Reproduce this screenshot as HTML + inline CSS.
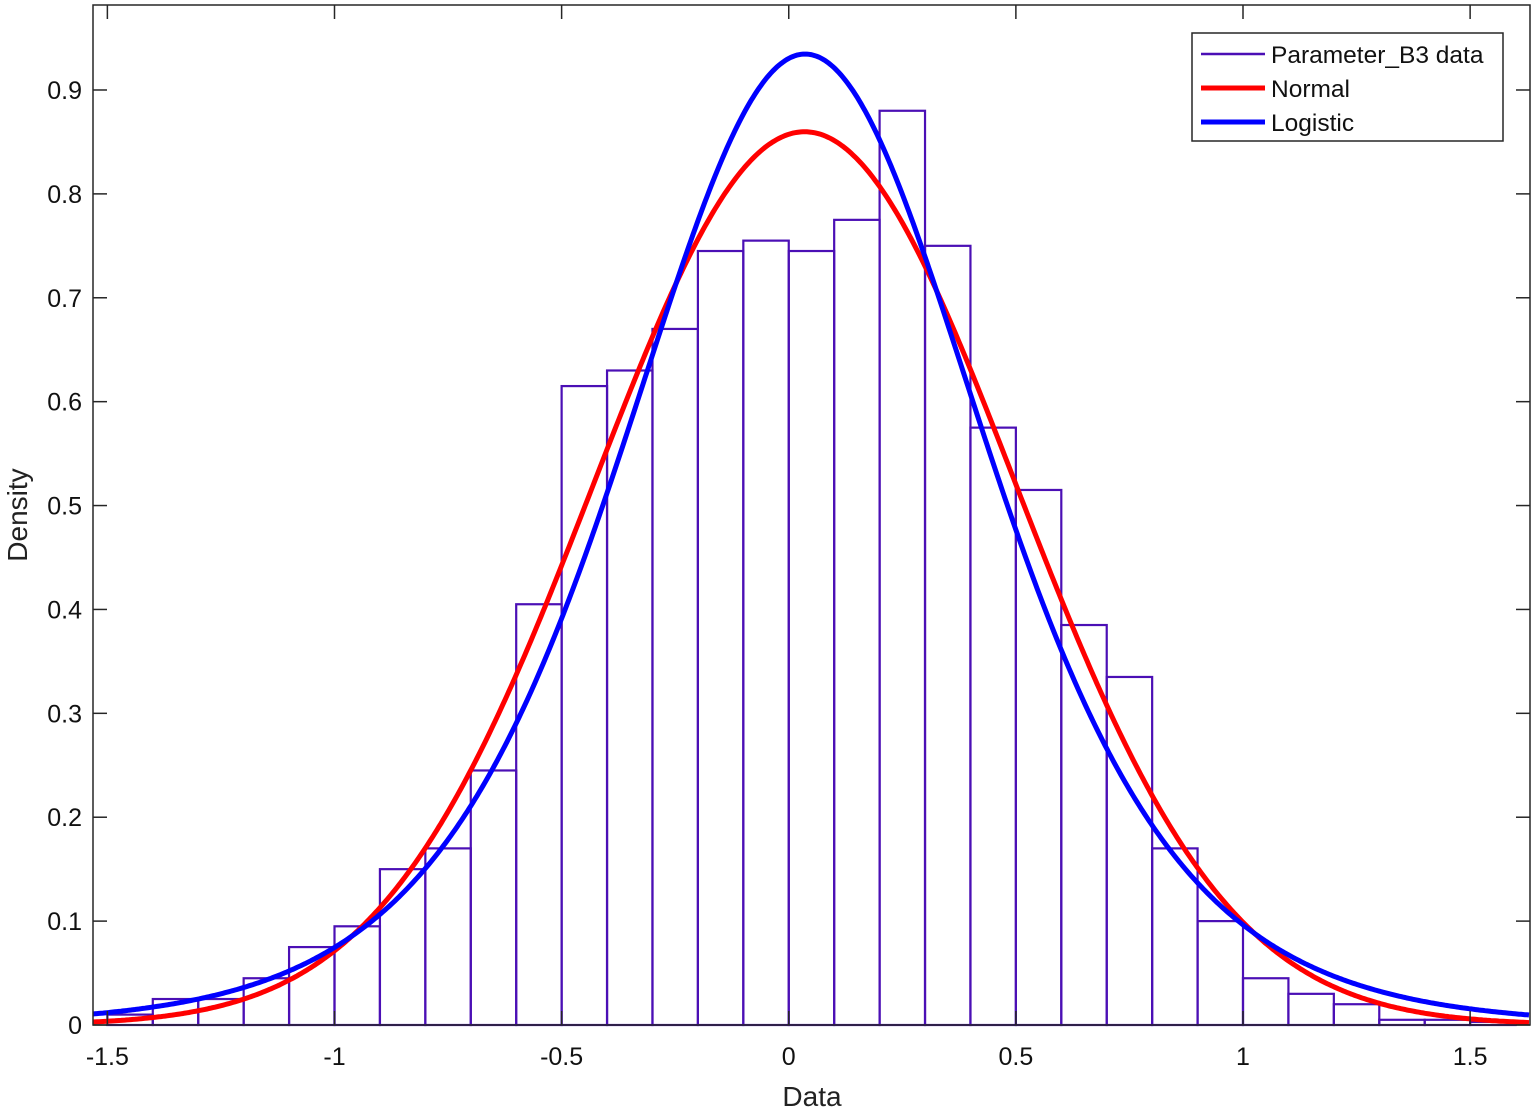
<!DOCTYPE html>
<html><head><meta charset="utf-8"><style>
html,body{margin:0;padding:0;background:#fff;}
svg{display:block;font-family:"Liberation Sans",Arial,sans-serif;}
</style></head><body>
<svg id="s" width="1536" height="1111" viewBox="0 0 1536 1111" xmlns="http://www.w3.org/2000/svg">
<rect width="1536" height="1111" fill="#fff"/>
<g id="bars"></g>
<g id="curves"></g>
<g id="axes"></g>
<text x="812" y="1106" font-size="28" text-anchor="middle" fill="#222">Data</text>
<text transform="translate(27,515) rotate(-90)" font-size="28" text-anchor="middle" fill="#222">Density</text>
<rect x="1192" y="33" width="311" height="108" fill="#fff" stroke="#262626" stroke-width="1.5"/>
<line x1="1201" y1="54" x2="1265" y2="54" stroke="#4b0fb5" stroke-width="2.5"/>
<line x1="1201" y1="88" x2="1265" y2="88" stroke="#ff0000" stroke-width="5"/>
<line x1="1201" y1="122" x2="1265" y2="122" stroke="#0000ff" stroke-width="5"/>
<text x="1271" y="63" font-size="24.5" fill="#111">Parameter_B3 data</text>
<text x="1271" y="97" font-size="24.5" fill="#111">Normal</text>
<text x="1271" y="131" font-size="24.5" fill="#111">Logistic</text>
</svg>
<script>
var X0=788.75,SX=454.25,Y0=1025,SY=1038.9,L=93,R=1530,T=5;
function px(x){return X0+x*SX;}function py(y){return Y0-y*SY;}
var h=[0.01,0.025,0.025,0.045,0.075,0.095,0.15,0.17,0.245,0.405,0.615,0.63,0.67,0.745,0.755,0.745,0.775,0.88,0.75,0.575,0.515,0.385,0.335,0.17,0.10,0.045,0.03,0.02,0.005,0.005,0.003];
var s='';
for(var i=0;i<h.length;i++){var a=-1.5+i*0.1;var x1=Math.max(px(a),L),x2=Math.min(px(a+0.1),R);
s+='<rect x="'+x1+'" y="'+py(h[i])+'" width="'+(x2-x1)+'" height="'+(h[i]*SY)+'" fill="none" stroke="#4b0fb5" stroke-width="2.2"/>';}
document.getElementById('bars').innerHTML=s;
function path(f,c){var d='';for(var p=L;p<=R;p+=2){var x=(p-X0)/SX;d+=(d?'L':'M')+p.toFixed(1)+' '+py(f(x)).toFixed(1);}
return '<path d="'+d+'" fill="none" stroke="'+c+'" stroke-width="5"/>';}
var mu=0.035,sg=0.464,mu2=0.036,sl=0.2675;
var nrm=function(x){return Math.exp(-(x-mu)*(x-mu)/(2*sg*sg))/(sg*Math.sqrt(2*Math.PI));};
var lg=function(x){var e=Math.exp(-(x-mu2)/sl);return e/(sl*(1+e)*(1+e));};
document.getElementById('curves').innerHTML=path(nrm,'#ff0000')+path(lg,'#0000ff');
var a='<rect x="'+L+'" y="'+T+'" width="'+(R-L)+'" height="'+(Y0-T)+'" fill="none" stroke="#262626" stroke-width="1.5"/>';
[-1.5,-1,-0.5,0,0.5,1,1.5].forEach(function(v){var x=px(v);
a+='<line x1="'+x+'" y1="'+Y0+'" x2="'+x+'" y2="'+(Y0-14)+'" stroke="#262626" stroke-width="1.5"/>';
a+='<line x1="'+x+'" y1="'+T+'" x2="'+x+'" y2="'+(T+14)+'" stroke="#262626" stroke-width="1.5"/>';
a+='<text x="'+x+'" y="1065" font-size="25" text-anchor="middle" fill="#111">'+v+'</text>';});
for(var k=0;k<=9;k++){var v=k/10,y=py(v);
a+='<line x1="'+L+'" y1="'+y+'" x2="'+(L+14)+'" y2="'+y+'" stroke="#262626" stroke-width="1.5"/>';
a+='<line x1="'+R+'" y1="'+y+'" x2="'+(R-14)+'" y2="'+y+'" stroke="#262626" stroke-width="1.5"/>';
a+='<text x="'+(L-11)+'" y="'+(y+9)+'" font-size="25" text-anchor="end" fill="#111">'+(k==0?'0':v.toFixed(1))+'</text>';}
document.getElementById('axes').innerHTML=a;
</script>
</body></html>
